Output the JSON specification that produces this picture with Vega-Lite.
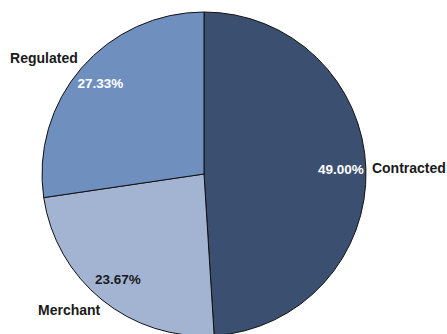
{
  "$schema": "https://vega.github.io/schema/vega-lite/v6.json",
  "width": 408,
  "height": 320,
  "autosize": "none",
  "padding": {"left": 0, "top": 14, "right": 39, "bottom": 0},
  "background": "white",
  "view": {"stroke": null},
  "data": {"values": [
    {"category": "Contracted", "share": 0.49, "ord": 1},
    {"category": "Merchant", "share": 0.2367, "ord": 2},
    {"category": "Regulated", "share": 0.2733, "ord": 3}
  ]},
  "encoding": {
    "theta": {"field": "share", "type": "quantitative", "stack": true},
    "order": {"field": "ord", "type": "quantitative"}
  },
  "layer": [
    {
      "mark": {"type": "arc", "radius": 162, "stroke": "#111111", "strokeWidth": 1},
      "encoding": {
        "color": {"field": "category", "type": "nominal", "legend": null,
          "scale": {"domain": ["Contracted", "Merchant", "Regulated"], "range": ["#3b5070", "#a3b4d3", "#6f8fbf"]}}
      }
    },
    {
      "mark": {"type": "text", "radius": 137, "font": "Liberation Sans", "fontWeight": "bold", "fontSize": 13.5},
      "encoding": {
        "text": {"field": "share", "type": "quantitative", "format": ".2%"},
        "color": {"condition": {"test": "datum.category === 'Merchant'", "value": "#1a1a1a"}, "value": "#ffffff"}
      }
    },
    {
      "mark": {"type": "text", "radius": {"expr": "datum.category === 'Contracted' ? 168 : 176"}, "dx": {"expr": "datum.category === 'Contracted' ? 0 : 7"}, "align": {"expr": "datum.category === 'Contracted' ? 'left' : 'right'"}, "font": "Liberation Sans", "fontWeight": "bold", "fontSize": 14, "color": "#1a1a1a"},
      "encoding": {"text": {"field": "category", "type": "nominal"}}
    }
  ]
}
